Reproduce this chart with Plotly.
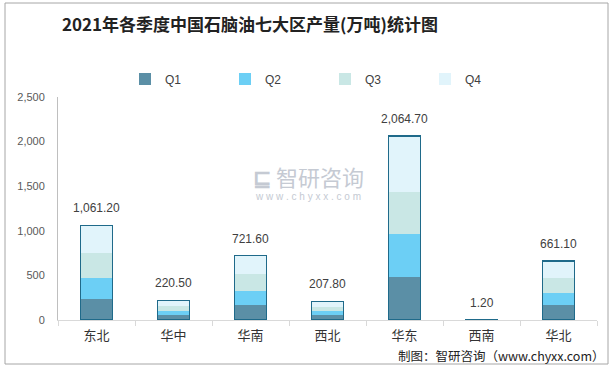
import plotly.graph_objects as go

regions = ["东北", "华中", "华南", "西北", "华东", "西南", "华北"]
totals = [1061.2, 220.5, 721.6, 207.8, 2064.7, 1.2, 661.1]
q1 = [240, 56, 169, 56, 484, 0.3, 169]
q2 = [236, 45, 158, 45, 484, 0.3, 135]
q3 = [271, 57, 191, 49, 462, 0.3, 169]
q4 = [314.2, 62.5, 203.6, 57.8, 634.7, 0.3, 188.1]
series_names = ["Q1", "Q2", "Q3", "Q4"]
y_ticks = [0, 500, 1000, 1500, 2000, 2500]

colors = ["#5b8fa6", "#6ccff5", "#c9e7e5", "#e1f4fb"]
outline = "#1f6a8a"
font_cjk = "Noto Sans CJK SC"

fig = go.Figure()
for name, vals, c in zip(series_names, [q1, q2, q3, q4], colors):
    fig.add_trace(go.Bar(x=regions, y=vals, name=name, marker=dict(color=c, line=dict(width=0)),
                         xaxis="x", yaxis="y"))

fig.add_trace(go.Bar(x=regions, y=totals, showlegend=False, hoverinfo="skip",
                     marker=dict(color="rgba(0,0,0,0)", line=dict(color=outline, width=1.5)),
                     xaxis="x2", yaxis="y"))

annotations = []
for r, t in zip(regions, totals):
    annotations.append(dict(x=r, y=t, xref="x", yref="y", text=f"{t:,.2f}", showarrow=False,
                            yshift=17, font=dict(size=12, color="#404040", family="Liberation Sans")))

# watermark
annotations.append(dict(x=(308 - 58) / 539, y=(320 - 176) / 223, xref="paper", yref="paper",
                        text="<b>⊑</b> 智研咨询", showarrow=False,
                        font=dict(size=22, color="#c5cad3", family=font_cjk)))
annotations.append(dict(x=(308 - 58) / 539, y=(320 - 196) / 223, xref="paper", yref="paper",
                        text="w w w . c h y x x . c o m", showarrow=False,
                        font=dict(size=10, color="#c5cad3", family="Liberation Sans")))
# footer
annotations.append(dict(x=(607 - 58) / 539, y=(320 - 355) / 223, xref="paper", yref="paper",
                        xanchor="right", yanchor="middle", text="制图：智研咨询（www.chyxx.com）", showarrow=False,
                        font=dict(size=12.5, color="#222222", family=font_cjk)))

fig.update_layout(
    width=616, height=368,
    margin=dict(l=58, r=19, t=97, b=48, autoexpand=False),
    paper_bgcolor="white", plot_bgcolor="white",
    barmode="stack", bargap=0.585,
    title=dict(text="<b>2021年各季度中国石脑油七大区产量(万吨)统计图</b>", x=250 / 616, xanchor="center",
               y=1 - 25 / 368, yanchor="middle",
               font=dict(size=17, color="#222222", family=font_cjk)),
    legend=dict(orientation="h", x=(125 - 58) / 539, y=(320 - 79) / 223, xanchor="left", yanchor="middle",
                entrywidth=55, entrywidthmode="pixels", traceorder="normal", itemwidth=30,
                font=dict(size=12, color="#404040", family="Liberation Sans"), bgcolor="rgba(0,0,0,0)"),
    xaxis=dict(type="category", showline=True, linecolor="#d9d9d9", linewidth=1,
               ticks="outside", ticklen=5, tickcolor="#d9d9d9", tickson="boundaries",
               ticklabelstandoff=3,
               tickfont=dict(size=13, color="#333333", family=font_cjk), showgrid=False),
    xaxis2=dict(type="category", overlaying="x", visible=False, matches="x"),
    yaxis=dict(range=[0, 2500], tickvals=y_ticks, ticktext=[f"{v:,}" for v in y_ticks],
               showline=True, linecolor="#bfbfbf", linewidth=1, showgrid=False, zeroline=False,
               ticks="", ticklabelstandoff=10,
               tickfont=dict(size=11, color="#595959", family="Liberation Sans")),
    annotations=annotations,
    shapes=[dict(type="rect", xref="paper", yref="paper",
                 x0=(5 - 58) / 539, x1=(608 - 58) / 539, y0=(320 - 364) / 223, y1=(320 - 3) / 223,
                 line=dict(color="#a6a6a6", width=1), fillcolor="rgba(0,0,0,0)", layer="below")],
)

fig.write_html("out.html", config={"displayModeBar": False},
               post_script="document.body.style.margin='0px';")
